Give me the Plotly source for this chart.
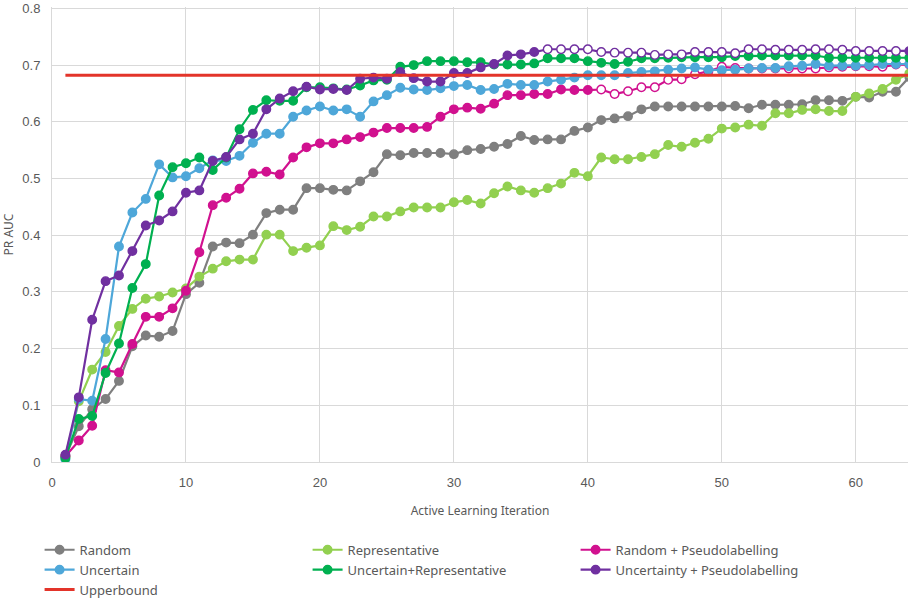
import plotly.graph_objects as go

iterations = list(range(1, 65))

random_auc = [
    0.010, 0.063, 0.093, 0.111, 0.143, 0.204, 0.223, 0.221, 0.231, 0.296,
    0.316, 0.380, 0.387, 0.386, 0.401, 0.439, 0.445, 0.445, 0.483, 0.483,
    0.480, 0.479, 0.495, 0.511, 0.543, 0.541, 0.545, 0.545, 0.545, 0.543,
    0.550, 0.552, 0.556, 0.561, 0.575, 0.568, 0.569, 0.569, 0.584, 0.590,
    0.603, 0.606, 0.610, 0.622, 0.627, 0.627, 0.627, 0.627, 0.627, 0.627,
    0.628, 0.624, 0.630, 0.630, 0.630, 0.631, 0.638, 0.638, 0.637, 0.644,
    0.643, 0.653, 0.653, 0.679,
]

representative_auc = [
    0.010, 0.107, 0.163, 0.194, 0.240, 0.270, 0.288, 0.292, 0.299, 0.306,
    0.327, 0.341, 0.354, 0.357, 0.357, 0.401, 0.401, 0.372, 0.378, 0.382,
    0.416, 0.409, 0.415, 0.433, 0.433, 0.442, 0.449, 0.449, 0.449, 0.458,
    0.462, 0.456, 0.474, 0.486, 0.479, 0.475, 0.483, 0.491, 0.510, 0.504,
    0.537, 0.534, 0.534, 0.538, 0.543, 0.559, 0.556, 0.563, 0.570, 0.588,
    0.590, 0.595, 0.593, 0.615, 0.615, 0.621, 0.622, 0.619, 0.619, 0.644,
    0.650, 0.658, 0.674, 0.685,
]

random_pl_auc = [
    0.010, 0.038, 0.064, 0.162, 0.158, 0.208, 0.256, 0.256, 0.271, 0.302,
    0.370, 0.453, 0.466, 0.482, 0.509, 0.512, 0.507, 0.537, 0.555, 0.562,
    0.562, 0.569, 0.573, 0.581, 0.589, 0.589, 0.589, 0.591, 0.609, 0.622,
    0.625, 0.623, 0.632, 0.647, 0.647, 0.649, 0.649, 0.657, 0.656, 0.656,
    0.657, 0.649, 0.654, 0.661, 0.661, 0.674, 0.675, 0.684, 0.689, 0.697,
    0.695, 0.694, 0.694, 0.694, 0.694, 0.694, 0.694, 0.696, 0.697, 0.698,
    0.698, 0.697, 0.701, 0.701,
]

uncertain_auc = [
    0.005, 0.111, 0.108, 0.217, 0.380, 0.440, 0.464, 0.525, 0.502, 0.504,
    0.518, 0.532, 0.531, 0.540, 0.563, 0.579, 0.579, 0.609, 0.620, 0.627,
    0.620, 0.622, 0.609, 0.636, 0.647, 0.660, 0.657, 0.656, 0.659, 0.663,
    0.665, 0.656, 0.658, 0.667, 0.665, 0.665, 0.671, 0.674, 0.678, 0.682,
    0.682, 0.682, 0.686, 0.688, 0.689, 0.692, 0.694, 0.696, 0.692, 0.691,
    0.692, 0.694, 0.695, 0.695, 0.698, 0.699, 0.702, 0.699, 0.699, 0.699,
    0.700, 0.702, 0.702, 0.702,
]

uncertain_rep_auc = [
    0.007, 0.076, 0.081, 0.157, 0.209, 0.307, 0.349, 0.470, 0.520, 0.527,
    0.537, 0.515, 0.537, 0.587, 0.621, 0.638, 0.637, 0.637, 0.661, 0.661,
    0.659, 0.657, 0.664, 0.673, 0.674, 0.697, 0.700, 0.707, 0.707, 0.707,
    0.705, 0.705, 0.701, 0.701, 0.701, 0.703, 0.712, 0.712, 0.712, 0.707,
    0.704, 0.702, 0.706, 0.712, 0.712, 0.713, 0.714, 0.714, 0.714, 0.714,
    0.716, 0.716, 0.717, 0.717, 0.717, 0.717, 0.717, 0.713, 0.713, 0.713,
    0.713, 0.713, 0.713, 0.713,
]

uncertainty_pl_auc = [
    0.013, 0.114, 0.251, 0.319, 0.329, 0.372, 0.417, 0.426, 0.442, 0.475,
    0.479, 0.531, 0.538, 0.569, 0.579, 0.622, 0.641, 0.654, 0.662, 0.657,
    0.658, 0.656, 0.676, 0.678, 0.676, 0.688, 0.677, 0.671, 0.671, 0.686,
    0.686, 0.696, 0.702, 0.717, 0.719, 0.723, 0.728, 0.728, 0.728, 0.728,
    0.723, 0.722, 0.722, 0.722, 0.718, 0.719, 0.719, 0.723, 0.723, 0.723,
    0.721, 0.728, 0.728, 0.727, 0.727, 0.727, 0.728, 0.728, 0.727, 0.725,
    0.725, 0.725, 0.725, 0.725,
]

upperbound_auc = [0.682] * len(iterations)

# iterations drawn with hollow (white-filled) markers
random_pl_open = set(range(41, 63))
uncertainty_pl_open = set(range(37, 64))

x_ticks = [0, 10, 20, 30, 40, 50, 60]
y_ticks = [0, 0.1, 0.2, 0.3, 0.4, 0.5, 0.6, 0.7, 0.8]
y_tick_text = ["0", "0.1", "0.2", "0.3", "0.4", "0.5", "0.6", "0.7", "0.8"]

FONT = "Noto Sans"
TICK_FONT = "Liberation Sans"
TEXT_GREY = "#595959"
GRID = "#d9d9d9"


def fills(color, open_set):
    return ["white" if i in open_set else color for i in iterations]


def series(name, values, color, open_set=frozenset()):
    return go.Scatter(
        x=iterations,
        y=values,
        name=name,
        mode="lines+markers",
        line=dict(color=color, width=2.2),
        marker=dict(
            symbol="circle",
            size=8.5,
            color=fills(color, open_set),
            line=dict(color=color, width=1.4),
        ),
    )


fig = go.Figure()
fig.add_trace(series("Random", random_auc, "#7f7f7f"))
fig.add_trace(series("Representative", representative_auc, "#92d050"))
fig.add_trace(series("Random + Pseudolabelling", random_pl_auc, "#d1118f", random_pl_open))
fig.add_trace(series("Uncertain", uncertain_auc, "#4ea7d9"))
fig.add_trace(series("Uncertain+Representative", uncertain_rep_auc, "#00b050"))
fig.add_trace(series("Uncertainty + Pseudolabelling", uncertainty_pl_auc, "#7030a0", uncertainty_pl_open))
fig.add_trace(
    go.Scatter(
        x=iterations,
        y=upperbound_auc,
        name="Upperbound",
        mode="lines",
        line=dict(color="#e3342a", width=3),
    )
)

fig.update_layout(
    width=908,
    height=601,
    margin=dict(l=52, r=0, t=7, b=139, autoexpand=False),
    paper_bgcolor="white",
    plot_bgcolor="white",
    font=dict(family=FONT, size=12, color=TEXT_GREY),
    showlegend=True,
    legend=dict(
        orientation="h",
        x=-0.0145,
        xanchor="left",
        y=-0.16,
        yanchor="top",
        entrywidth=223,
        entrywidthmode="pixels",
        itemwidth=30,
        tracegroupgap=0,
        font=dict(family=FONT, size=13, color=TEXT_GREY),
        bgcolor="rgba(0,0,0,0)",
    ),
    xaxis=dict(
        range=[0, 63.9],
        tickmode="array",
        tickvals=x_ticks,
        ticktext=[str(v) for v in x_ticks],
        showgrid=True,
        gridcolor=GRID,
        gridwidth=1,
        zeroline=False,
        showline=True,
        linecolor=GRID,
        linewidth=1,
        ticks="outside",
        ticklen=8,
        tickcolor="rgba(0,0,0,0)",
        tickfont=dict(family=TICK_FONT, size=13, color=TEXT_GREY),
        title=dict(
            text="Active Learning Iteration",
            font=dict(family=FONT, size=12, color=TEXT_GREY),
            standoff=18,
        ),
    ),
    yaxis=dict(
        range=[0, 0.8025],
        tickmode="array",
        tickvals=y_ticks,
        ticktext=y_tick_text,
        ticklabeloverflow="allow",
        showgrid=True,
        gridcolor=GRID,
        gridwidth=1,
        zeroline=False,
        showline=True,
        linecolor=GRID,
        linewidth=1,
        ticks="outside",
        ticklen=8,
        tickcolor="rgba(0,0,0,0)",
        tickfont=dict(family=TICK_FONT, size=13, color=TEXT_GREY),
        title=dict(
            text="PR AUC",
            font=dict(family=FONT, size=12, color=TEXT_GREY),
            standoff=6,
        ),
    ),
)

fig.write_html("out.html")
